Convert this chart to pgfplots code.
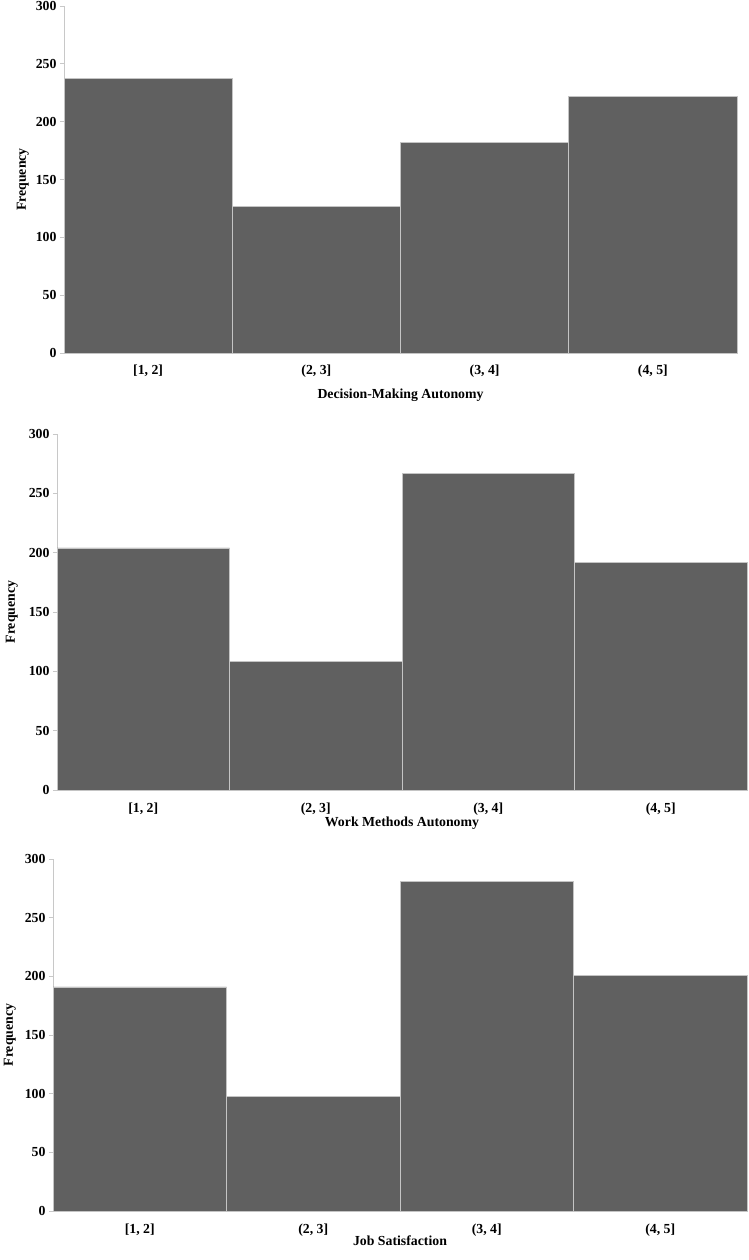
\documentclass[border=0pt]{standalone}
\usepackage{pgfplots}
\pgfplotsset{compat=1.18}
\usepackage{fontspec}
\setmainfont{Liberation Serif}
\definecolor{barfill}{HTML}{606060}
\definecolor{baredge}{HTML}{C4C4C4}
\definecolor{axisgray}{HTML}{C8C8C8}
\pgfplotsset{
  hist/.style={
    scale only axis,
    xmin=0, xmax=4, ymin=0, ymax=300,
    ytick={0,50,...,300},
    xtick={0.5,1.5,2.5,3.5},
    xticklabels={{[1, 2]},{(2, 3]},{(3, 4]},{(4, 5]}},
    axis x line*=bottom, axis y line*=left,
    axis line style={axisgray, line width=0.8pt, -},
    x axis line style={draw=none},
    major x tick style={draw=none},
    major y tick style={axisgray, line width=0.8pt},
    tick align=outside,
    major tick length=4pt,
    /pgf/number format/assume math mode=true,
    tick label style={font=\fontsize{13.8}{16}\selectfont\bfseries},
    label style={font=\fontsize{13.8}{16}\selectfont\bfseries},
    ylabel={Frequency},
    clip=false,
  },
}
\begin{document}
\begin{tikzpicture}
\useasboundingbox (0pt,2pt) rectangle (749pt,-1258pt);
% Panel 1
\begin{axis}[hist, at={(64pt,-351pt)}, anchor=south west, width=673pt, height=347pt,
  xlabel={Decision-Making Autonomy},
  xticklabel style={yshift=-4pt},
  xlabel style={yshift=-5pt},
  ylabel style={yshift=0pt}]
\addplot[ybar interval, fill=barfill, draw=baredge, line width=0.8pt]
  coordinates {(0,237) (1,127) (2,182) (3,222) (4,222)};
\draw[baredge, line width=0.8pt] (axis cs:0,0) -- (axis cs:4,0);
\end{axis}
% Panel 2
\begin{axis}[hist, at={(57pt,-788pt)}, anchor=south west, width=690pt, height=356pt,
  xlabel={Work Methods Autonomy},
  xticklabel style={yshift=-5pt},
  xlabel style={yshift=5pt},
  ylabel style={yshift=4pt}]
\addplot[ybar interval, fill=barfill, draw=baredge, line width=0.8pt]
  coordinates {(0,204) (1,108) (2,267) (3,192) (4,192)};
\draw[baredge, line width=0.8pt] (axis cs:0,0) -- (axis cs:4,0);
\end{axis}
% Panel 3
\begin{axis}[hist, at={(53pt,-1209pt)}, anchor=south west, width=694pt, height=352pt,
  xlabel={Job Satisfaction},
  xticklabel style={yshift=-5pt},
  xlabel style={yshift=7pt},
  ylabel style={yshift=2pt}]
\addplot[ybar interval, fill=barfill, draw=baredge, line width=0.8pt]
  coordinates {(0,191) (1,98) (2,281) (3,201) (4,201)};
\draw[baredge, line width=0.8pt] (axis cs:0,0) -- (axis cs:4,0);
\end{axis}
\end{tikzpicture}
\end{document}
